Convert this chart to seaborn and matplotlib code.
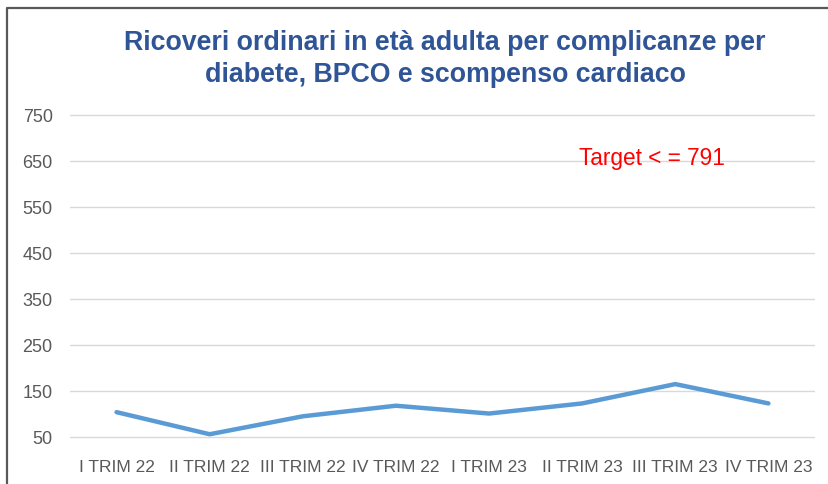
import matplotlib
matplotlib.use("Agg")
import matplotlib.pyplot as plt
import matplotlib.lines as mlines
import pandas as pd
import seaborn as sns

# data
trimestri = ["I TRIM 22", "II TRIM 22", "III TRIM 22", "IV TRIM 22",
             "I TRIM 23", "II TRIM 23", "III TRIM 23", "IV TRIM 23"]
ricoveri = [104, 56, 95, 118, 101, 123, 165, 123]
y_ticks = [50, 150, 250, 350, 450, 550, 650, 750]
titolo = "Ricoveri ordinari in età adulta per complicanze per\ndiabete, BPCO e scompenso cardiaco"
target_label = "Target < = 791"

df = pd.DataFrame({"trim": trimestri, "val": ricoveri})

sns.set_theme(style="white")
plt.rcParams['font.family'] = ['Liberation Sans', 'DejaVu Sans']

fig = plt.figure(figsize=(8.29, 4.85), dpi=100)
# axes spans 45..755 so the 50 and 750 grid lines are not clipped
px_per_unit = (438 - 116) / 700
ax = fig.add_axes([70 / 829, 1 - (438 + 5 * px_per_unit) / 485,
                   745 / 829, (322 + 10 * px_per_unit) / 485])

sns.lineplot(data=df, x="trim", y="val", ax=ax, color="#5B9BD5", linewidth=3.2,
             sort=False)

ax.set_ylim(45, 755)
ax.set_xlim(-0.5, len(trimestri) - 0.5)
ax.set_yticks(y_ticks)
ax.set_yticklabels([str(v) for v in y_ticks])
ax.set_xlabel("")
ax.set_ylabel("")
for s in ax.spines.values():
    s.set_visible(False)
ax.grid(axis="y", color="#D9D9D9", linewidth=1.0)
ax.set_axisbelow(True)
ax.tick_params(axis="both", length=0, colors="#595959", labelsize=12.5)
ax.tick_params(axis="y", labelsize=13, pad=12.5)
ax.tick_params(axis="x", pad=14)

ax.text(4.97, 658, target_label, color="#FF0000", fontsize=16.3,
        ha="left", va="center")

fig.text(445 / 829, 1 - 59 / 485, titolo, ha="center", va="center",
         color="#2F5597", fontsize=19.3, fontweight="bold", linespacing=1.28)

# frame of the original slide
fig.add_artist(mlines.Line2D([7 / 829, 7 / 829, 1.0], [0, 1 - 9 / 485, 1 - 9 / 485],
                             color="#595959", linewidth=1.6,
                             transform=fig.transFigure))

fig.savefig("out.png", dpi=100)
